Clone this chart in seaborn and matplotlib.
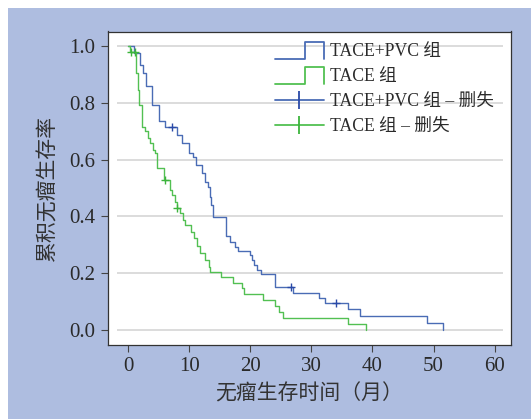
import matplotlib
matplotlib.use("Agg")
import matplotlib.pyplot as plt
import seaborn as sns
from matplotlib.lines import Line2D
from matplotlib.legend_handler import HandlerBase
from matplotlib.patches import Rectangle

# ---------------- data ----------------
pvc_time = [0, 0.9, 1.9, 2.4, 2.8, 3.9, 5.0, 6.0, 7.9, 8.7, 9.9, 10.6, 11.1, 12.0, 12.5,
            13.0, 13.4, 13.6, 13.9, 16.0, 16.6, 17.5, 18.0, 19.9, 20.2, 20.5, 21.0, 21.8,
            24.0, 26.9, 31.3, 32.2, 36.0, 38.0, 48.9, 51.5]
pvc_surv = [1.0, 0.977, 0.936, 0.906, 0.859, 0.794, 0.735, 0.717, 0.688, 0.658, 0.623, 0.611,
            0.582, 0.552, 0.522, 0.505, 0.469, 0.44, 0.396, 0.33, 0.31, 0.292, 0.278, 0.263,
            0.245, 0.228, 0.212, 0.196, 0.151, 0.13, 0.11, 0.092, 0.071, 0.047, 0.023, 0.0]
pvc_cens_time = [7.1, 26.6, 34.0]
pvc_cens_surv = [0.717, 0.151, 0.092]

tace_time = [0, 0.2, 1.2, 1.5, 1.8, 2.3, 2.7, 3.2, 3.5, 4.1, 4.3, 4.7, 5.9, 6.8, 7.2, 7.6, 7.9,
             8.5, 8.9, 9.3, 10.3, 10.7, 11.2, 11.8, 12.6, 13.2, 13.4, 15.1, 17.1, 18.6, 18.9,
             22.1, 24.0, 24.6, 25.3, 36.0, 38.9]
tace_surv = [1.0, 0.98, 0.906, 0.847, 0.794, 0.717, 0.70, 0.676, 0.658, 0.635, 0.623, 0.57,
             0.528, 0.493, 0.475, 0.452, 0.428, 0.41, 0.387, 0.369, 0.345, 0.322, 0.296, 0.269,
             0.245, 0.222, 0.204, 0.186, 0.163, 0.145, 0.125, 0.104, 0.082, 0.062, 0.042,
             0.021, 0.0]
tace_cens_time = [0.5, 1.1, 6.0, 8.0]
tace_cens_surv = [0.98, 0.98, 0.528, 0.428]

x_ticks = [0, 10, 20, 30, 40, 50, 60]
y_ticks = [0.0, 0.2, 0.4, 0.6, 0.8, 1.0]
legend_labels = ["TACE+PVC 组", "TACE 组", "TACE+PVC 组 – 删失", "TACE 组 – 删失"]
x_label = "无瘤生存时间（月）"
y_label = "累积无瘤生存率"

# ---------------- style ----------------
sns.set_style("ticks")
plt.rcParams['font.family'] = ['Liberation Serif', 'Noto Sans CJK SC', 'DejaVu Sans']

BLUE = "#4a6cb5"
BLUE_DARK = "#2a4aa8"
GREEN = "#52c052"
GREEN_DARK = "#3cb43c"
BG = "#aebde0"
TXT = "#2a2a2a"

fig = plt.figure(figsize=(5.31, 4.19), dpi=100, facecolor="white")
fig.patches.append(Rectangle((8 / 531, 0), 1, 1 - 8 / 419, transform=fig.transFigure,
                             facecolor=BG, edgecolor="none", zorder=-10))
ax = fig.add_axes([108 / 531, 1 - 344.5 / 419, 403 / 531, 313 / 419])
ax.set_facecolor("white")

ax.hlines(y_ticks, -1.9, 61.4, color="#dcdcdc", lw=1.4, zorder=0)

sns.lineplot(x=pvc_time, y=pvc_surv, drawstyle="steps-post", color=BLUE, lw=1.0,
             ax=ax, zorder=3)
sns.lineplot(x=tace_time, y=tace_surv, drawstyle="steps-post", color=GREEN, lw=1.0,
             ax=ax, zorder=3)
sns.scatterplot(x=pvc_cens_time, y=pvc_cens_surv, marker="+", s=30, color=BLUE_DARK,
                linewidth=1.0, ax=ax, zorder=4)
sns.scatterplot(x=tace_cens_time, y=tace_cens_surv, marker="+", s=30, color=GREEN_DARK,
                linewidth=1.0, ax=ax, zorder=4)

ax.set_xlim(-3.35, 62.7)
ax.set_ylim(-0.053, 1.053)
ax.set_xticks(x_ticks)
ax.set_yticks(y_ticks)
ax.set_yticklabels([f"{v:.1f}" for v in y_ticks])
ax.tick_params(axis="both", direction="out", length=5, width=0.8, colors="#444444",
               labelsize=15, labelcolor=TXT, pad=4)
for sp in ax.spines.values():
    sp.set_color("#333333")
    sp.set_linewidth(0.9)

ax.set_xlabel(x_label, fontsize=15, color="#333333", labelpad=6)
ax.set_ylabel(y_label, fontsize=15, color="#333333", labelpad=8)


class StepHandler(HandlerBase):
    def create_artists(self, legend, orig_handle, xdescent, ydescent, width, height,
                       fontsize, trans):
        x0 = -xdescent
        y0 = -ydescent - 0.25 * height
        h = 1.45 * height
        xs = [x0, x0 + 0.62 * width, x0 + 0.62 * width, x0 + width, x0 + width]
        ys = [y0, y0, y0 + h, y0 + h, y0]
        ln = Line2D(xs, ys, color=orig_handle.get_color(), lw=1.3, transform=trans)
        return [ln]


class CensHandler(HandlerBase):
    def create_artists(self, legend, orig_handle, xdescent, ydescent, width, height,
                       fontsize, trans):
        x0 = -xdescent
        yc = -ydescent + 0.5 * height
        ln = Line2D([x0, x0 + width], [yc, yc], color=orig_handle.get_color(), lw=1.3,
                    transform=trans)
        mk = Line2D([x0 + 0.5 * width], [yc], color=orig_handle.get_markeredgecolor(),
                    marker="|", markersize=13, markeredgewidth=1.3, linestyle="none",
                    transform=trans)
        return [ln, mk]


h1 = Line2D([], [], color=BLUE)
h2 = Line2D([], [], color=GREEN)
h3 = Line2D([], [], color=BLUE, markeredgecolor=BLUE_DARK)
h4 = Line2D([], [], color=GREEN, markeredgecolor=GREEN_DARK)
leg = ax.legend([h1, h2, h3, h4], legend_labels,
                handler_map={h1: StepHandler(), h2: StepHandler(),
                             h3: CensHandler(), h4: CensHandler()},
                loc="upper left", bbox_to_anchor=(0.415, 0.962), frameon=False,
                fontsize=12.7, handlelength=2.75, handletextpad=0.35, labelspacing=0.45,
                borderpad=0, borderaxespad=0)
for t in leg.get_texts():
    t.set_color(TXT)

fig.savefig("out.png", dpi=100, facecolor=fig.get_facecolor())
